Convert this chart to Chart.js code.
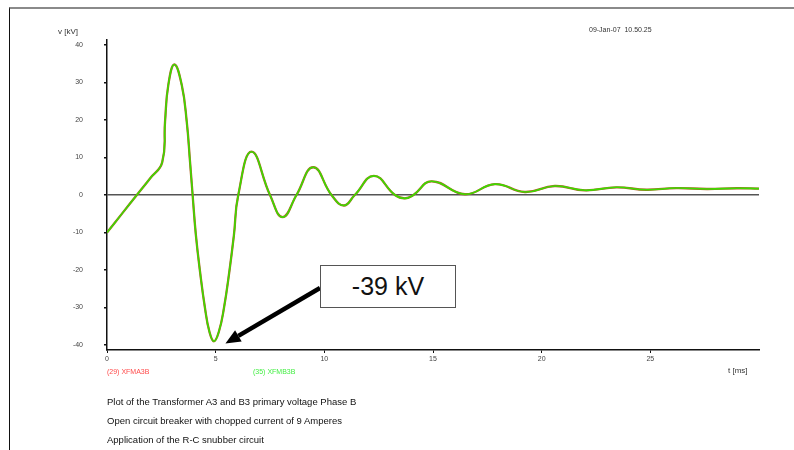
<!DOCTYPE html>
<html>
<head>
<meta charset="utf-8">
<title>Transformer A3/B3 primary voltage, phase B</title>
<script src="https://cdn.jsdelivr.net/npm/chart.js@4/dist/chart.umd.min.js"></script>
<style>
  html, body { margin: 0; padding: 0; background: #fff; }
  body { width: 794px; height: 450px; position: relative; overflow: hidden;
         font-family: "Liberation Sans", Arial, sans-serif; }
  #frame { position: absolute; left: 9px; top: 7px; right: 0; bottom: -2px;
           border-top: 2px solid #8a8a8a; border-left: 1.5px solid #111; }
  #plot { position: absolute; left: 0; top: 0; }
  .txt { position: absolute; white-space: nowrap; line-height: 1; }
  .small { font-size: 7px; color: #444; }
  .caption { font-size: 9.5px; color: #111; left: 107px; }
  #callout { position: absolute; left: 320px; top: 265px; width: 134px; height: 41px;
             border: 1px solid #555; background: #fff; font-size: 25px; color: #111;
             display: flex; align-items: center; justify-content: center; }
</style>
</head>
<body>
<div id="frame"></div>
<canvas id="plot" width="794" height="450"></canvas>

<div class="txt" style="left:58px; top:28px; font-size:8px; color:#333;">v [kV]</div>
<div class="txt small" style="left:589px; top:26px; color:#333;">09-Jan-07&nbsp;&nbsp;10.50.25</div>
<div class="txt" style="left:728px; top:367px; font-size:8px; color:#333;">t [ms]</div>
<div class="txt" style="left:107px; top:368px; font-size:7px; color:#ff4a4a;">(29) XFMA3B</div>
<div class="txt" style="left:253px; top:368px; font-size:7px; color:#44ee44;">(35) XFMB3B</div>
<div class="txt caption" style="top:397px;">Plot of the Transformer A3 and B3 primary voltage Phase B</div>
<div class="txt caption" style="top:416px;">Open circuit breaker with chopped current of 9 Amperes</div>
<div class="txt caption" style="top:435px;">Application of the R-C snubber circuit</div>
<div id="callout">-39 kV</div>

<script>
// time axis [ms] and phase B primary voltage [kV]
const tMs = [0, 0.7, 1.4, 1.98, 2.54, 2.67, 2.82, 3.10, 3.44, 3.67, 3.82, 3.94, 4.09, 4.28, 4.51, 4.71,
    4.92, 5.15, 5.38, 5.63, 5.84, 6.04, 6.65, 7.5, 8.08, 8.72, 9.49, 10.33, 10.9, 11.4, 12.28, 13.25,
    13.7, 14.1, 14.93, 16.47, 17.85, 19.23, 20.6, 21.99, 23.44, 24.82, 26.2, 27.6, 29.0, 30.0];
const vXfmA3B = [-10, -4.9, 0.2, 4.4, 8.7, 19.5, 29.3, 34.8, 29.3, 19.5, 8.9, 0, -10.7, -20.4, -30.2, -36.4,
    -39, -36.4, -30.2, -20.4, -10.7, 0, 11.55, 0, -5.9, 0, 7.4, 0, -2.8, 0, 5.1, 0,
    -0.9, 0, 3.65, 0.2, 2.9, 0.8, 2.4, 1.25, 2.05, 1.4, 1.85, 1.6, 1.8, 1.7];
const vXfmB3B = [-10, -4.9, 0.2, 4.4, 8.7, 19.5, 29.3, 34.8, 29.3, 19.5, 8.9, 0, -10.7, -20.4, -30.2, -36.4,
    -39, -36.4, -30.2, -20.4, -10.7, 0, 11.55, 0, -5.9, 0, 7.4, 0, -2.8, 0, 5.1, 0,
    -0.9, 0, 3.65, 0.2, 2.9, 0.8, 2.4, 1.25, 2.05, 1.4, 1.85, 1.6, 1.8, 1.7];

const xTicks = [0, 5, 10, 15, 20, 25];
const yTicks = [-40, -30, -20, -10, 0, 10, 20, 30, 40];

// where the callout arrow points (t, v)
const arrowTip = { t: 5.45, v: -39.6 };

const toXY = (ts, vs) => ts.map((t, i) => ({ x: t, y: vs[i] }));
const tickFont = { family: '"Liberation Sans", Arial, sans-serif', size: 7 };

// arrow from the callout box down to the negative peak
const calloutArrow = {
    id: 'calloutArrow',
    afterDraw(chart) {
        const { ctx, scales } = chart;
        const x1 = 320, y1 = 288;
        const x2 = scales.x.getPixelForValue(arrowTip.t);
        const y2 = scales.y.getPixelForValue(arrowTip.v);
        const ang = Math.atan2(y2 - y1, x2 - x1);
        const headLen = 15, headW = 6.5;
        const bx = x2 - headLen * Math.cos(ang), by = y2 - headLen * Math.sin(ang);
        ctx.save();
        ctx.strokeStyle = '#000';
        ctx.fillStyle = '#000';
        ctx.lineWidth = 4.5;
        ctx.beginPath();
        ctx.moveTo(x1, y1);
        ctx.lineTo(bx, by);
        ctx.stroke();
        ctx.beginPath();
        ctx.moveTo(x2, y2);
        ctx.lineTo(bx + headW * Math.sin(ang), by - headW * Math.cos(ang));
        ctx.lineTo(bx - headW * Math.sin(ang), by + headW * Math.cos(ang));
        ctx.closePath();
        ctx.fill();
        ctx.restore();
    }
};

new Chart(document.getElementById('plot'), {
    type: 'line',
    data: {
        datasets: [
            {
                label: '(35) XFMB3B',
                data: toXY(tMs, vXfmB3B),
                borderColor: '#3cdc00',
                borderWidth: 1.6,
                pointRadius: 0,
                tension: 0.45,
                order: 0,
            },
            {
                label: '(29) XFMA3B',
                data: toXY(tMs, vXfmA3B),
                borderColor: '#b0602a',
                borderWidth: 2.3,
                pointRadius: 0,
                tension: 0.45,
                order: 1,
            }
        ]
    },
    options: {
        responsive: false,
        animation: false,
        layout: { padding: { left: 0, right: 35, top: 40, bottom: 0 } },
        plugins: { legend: { display: false }, tooltip: { enabled: false } },
        scales: {
            x: {
                type: 'linear',
                min: 0,
                max: 30,
                afterFit: s => { s.height = 100; },
                afterBuildTicks: s => { s.ticks = xTicks.map(v => ({ value: v })); },
                border: { display: true, color: '#111', width: 1.5 },
                grid: { drawOnChartArea: false, drawTicks: true, tickLength: 3, tickColor: '#111', color: 'rgba(0,0,0,0)' },
                ticks: { color: '#444', font: tickFont, padding: 2, maxRotation: 0 },
            },
            y: {
                min: -41.33,
                max: 41.33,
                afterFit: s => { s.width = 107; },
                afterBuildTicks: s => { s.ticks = yTicks.map(v => ({ value: v })); },
                border: { display: true, color: '#111', width: 1.5 },
                grid: {
                    drawTicks: true,
                    tickLength: 3,
                    tickColor: '#111',
                    color: c => (c.tick && c.tick.value === 0) ? '#555' : 'rgba(0,0,0,0)',
                    lineWidth: 1.6,
                },
                ticks: { color: '#444', font: tickFont, padding: 21 },
            }
        }
    },
    plugins: [calloutArrow]
});
</script>
</body>
</html>
